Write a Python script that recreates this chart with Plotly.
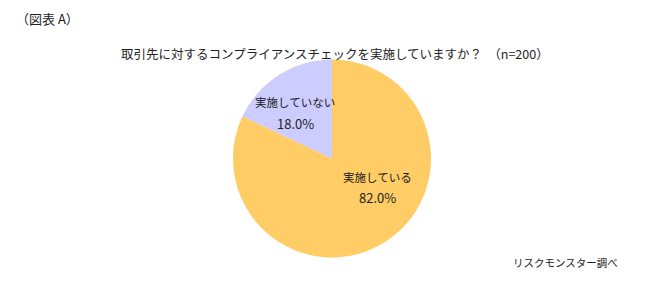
import plotly.graph_objects as go

labels = ["実施している", "実施していない"]
values = [82.0, 18.0]
colors = ["#FFCC66", "#CCCCFF"]

W, H = 650, 293
cx, cy, r = 332, 158.5, 99

fig = go.Figure()
fig.add_trace(go.Pie(
    labels=labels, values=values, sort=False, direction="clockwise", rotation=0,
    marker=dict(colors=colors, line=dict(width=0)),
    textinfo="none", hoverinfo="label+percent", showlegend=False,
    domain=dict(x=[(cx - r) / W, (cx + r) / W], y=[(H - cy - r) / H, (H - cy + r) / H]),
))

FONT = "Noto Sans CJK JP, Meiryo, sans-serif"
def ann(text, x, y, size=12, xanchor="center"):
    fig.add_annotation(text=text, x=x / W, y=1 - y / H, xref="paper", yref="paper",
                       showarrow=False, xanchor=xanchor, yanchor="middle",
                       font=dict(family=FONT, size=size, color="#222222"))

label_pos = [(377, 177, 198), (295, 102, 123)]
for lab, v, (x, y1, y2) in zip(labels, values, label_pos):
    ann(lab, x, y1, size=11.5)
    ann(f"{v:.1f}%", x, y2, size=13)

ann("（図表 A）", 14, 18, size=13, xanchor="left")
ann("取引先に対するコンプライアンスチェックを実施していますか？　（n=200）", 335, 53, size=12.5)
ann("リスクモンスター調べ", 620, 262, size=10.5, xanchor="right")

fig.update_layout(width=W, height=H, margin=dict(l=0, r=0, t=0, b=0),
                  paper_bgcolor="white", plot_bgcolor="white")
fig.write_html("out.html")
